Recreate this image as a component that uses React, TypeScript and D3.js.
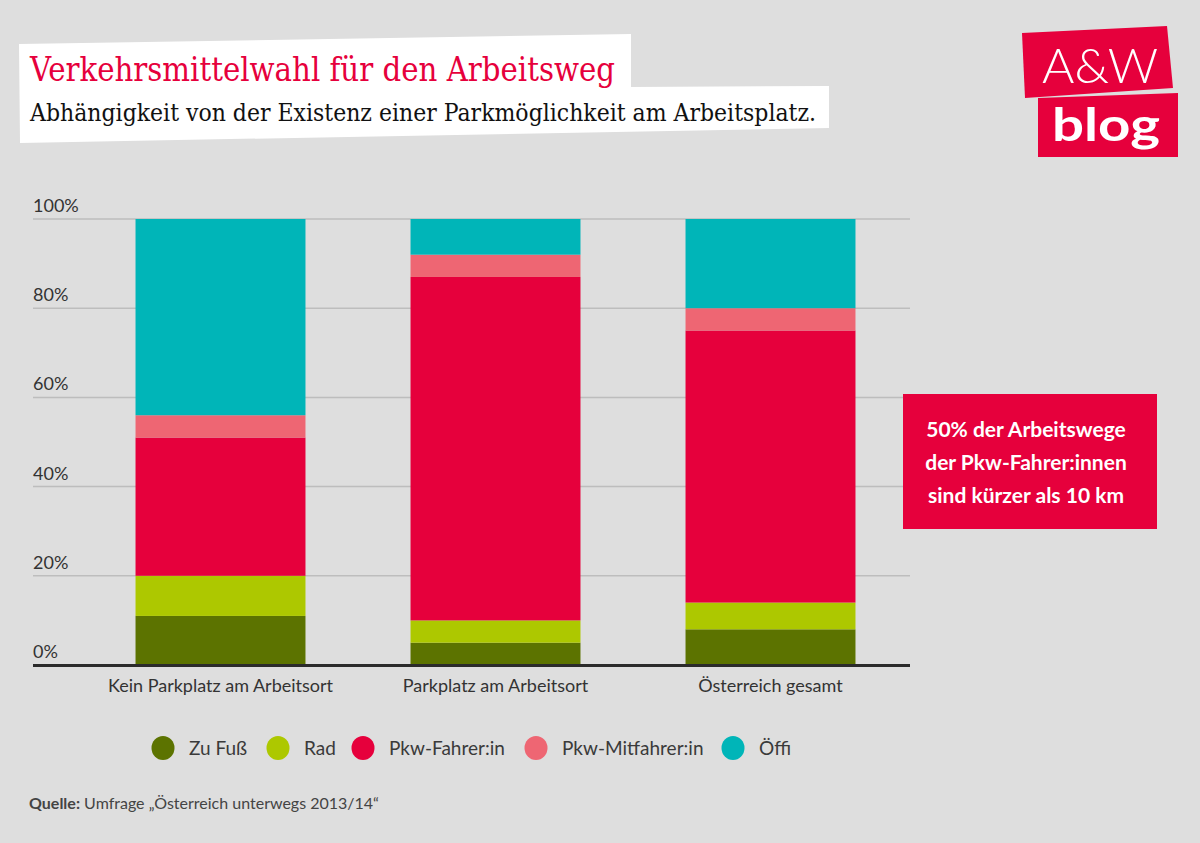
import React from 'react';
import * as d3 from 'd3';

const categories = ['Kein Parkplatz am Arbeitsort', 'Parkplatz am Arbeitsort', 'Österreich gesamt'];
const seriesNames = ['Zu Fuß', 'Rad', 'Pkw-Fahrer:in', 'Pkw-Mitfahrer:in', 'Öffi'];
const zuFuss = [11, 5, 8];
const rad = [9, 5, 6];
const pkwFahrer = [31, 77, 61];
const pkwMitfahrer = [5, 5, 5];
const oeffi = [44, 8, 20];
const yTicks = [0, 20, 40, 60, 80, 100];
const colors = ['#5c7300', '#adc800', '#e6003c', '#ee6673', '#00b5b8'];
const legendX = [163, 278, 363, 536, 733];
const noteLines = ['50% der Arbeitswege', 'der Pkw-Fahrer:innen', 'sind kürzer als 10 km'];

const W = 1200;
const H = 843;
const SANS = "Lato, 'PT Sans', 'Noto Sans', sans-serif";
const SERIF = "'DejaVu Serif Condensed', 'DejaVu Serif', serif";

export default function App() {
  const rows = categories.map((c, i) => ({
    cat: c,
    [seriesNames[0]]: zuFuss[i],
    [seriesNames[1]]: rad[i],
    [seriesNames[2]]: pkwFahrer[i],
    [seriesNames[3]]: pkwMitfahrer[i],
    [seriesNames[4]]: oeffi[i],
  }));
  const stacked = d3.stack<any>().keys(seriesNames)(rows);
  const x = d3.scaleBand<string>().domain(categories).range([83, 908]).paddingInner(0.382).paddingOuter(0.191);
  const y = d3.scaleLinear().domain([0, 100]).range([665, 219]);

  return (
    <div style={{ position: 'absolute', left: 0, top: 0 }}>
      <svg width={W} height={H} viewBox={`0 0 ${W} ${H}`} style={{ display: 'block' }}>
        <rect x={0} y={0} width={W} height={H} fill="#dedede" />

        {/* Title block */}
        <polygon points="19,44 631,34 631,87 829,86 829,128 20,143" fill="#ffffff" />
        <text x={30} y={81} fontFamily={SERIF} fontSize={33} fill="#e6003c" textLength={585} lengthAdjust="spacingAndGlyphs">
          Verkehrsmittelwahl für den Arbeitsweg
        </text>
        <text x={30} y={121} fontFamily={SERIF} fontSize={24} fill="#111111" textLength={786} lengthAdjust="spacingAndGlyphs">
          Abhängigkeit von der Existenz einer Parkmöglichkeit am Arbeitsplatz.
        </text>

        {/* Logo */}
        <polygon points="1022,33 1167,26 1173,88 1025,98" fill="#e6003c" />
        <polygon points="1038,98 1178,93 1178,157 1038,157" fill="#e6003c" />
        <text x={1100} y={83} textAnchor="middle" fontFamily={SANS} fontSize={48} fontWeight={300} fill="#ffffff" textLength={116} lengthAdjust="spacingAndGlyphs">
          A&amp;W
        </text>
        <text x={1106} y={141} textAnchor="middle" fontFamily={SANS} fontSize={46} fontWeight={700} fill="#ffffff" textLength={108} lengthAdjust="spacingAndGlyphs">
          blog
        </text>

        {/* Gridlines + y labels */}
        {yTicks.map((t) => (
          <g key={t}>
            {t !== 0 && <line x1={33} x2={910} y1={y(t)} y2={y(t)} stroke="#bdbdbd" strokeWidth={1.5} />}
            <text x={33} y={y(t) - 7} fontFamily={SANS} fontSize={18} fill="#333333">
              {t}%
            </text>
          </g>
        ))}

        {/* Bars */}
        {stacked.map((s, si) => (
          <g key={s.key} fill={colors[si]}>
            {s.map((d, i) => (
              <rect
                key={i}
                x={x(categories[i])}
                width={x.bandwidth()}
                y={y(d[1])}
                height={y(d[0]) - y(d[1])}
              />
            ))}
          </g>
        ))}

        {/* Axis baseline */}
        <line x1={33} x2={910} y1={665.5} y2={665.5} stroke="#2b2b2b" strokeWidth={3} />

        {/* X labels */}
        {categories.map((c) => (
          <text key={c} x={(x(c) as number) + x.bandwidth() / 2} y={692} textAnchor="middle" fontFamily={SANS} fontSize={18} fill="#333333">
            {c}
          </text>
        ))}

        {/* Annotation */}
        <rect x={903} y={394} width={254} height={135} fill="#e6003c" />
        {noteLines.map((l, i) => (
          <text key={i} x={1026} y={437 + i * 33} textAnchor="middle" fontFamily={SANS} fontSize={21} fontWeight={700} fill="#ffffff">
            {l}
          </text>
        ))}

        {/* Legend */}
        {seriesNames.map((n, i) => (
          <g key={n}>
            <ellipse cx={legendX[i]} cy={748} rx={11.5} ry={12} fill={colors[i]} />
            <text x={legendX[i] + 26} y={755} fontFamily={SANS} fontSize={19} fill="#3a3a3a">
              {n}
            </text>
          </g>
        ))}

        {/* Source */}
        <text x={29} y={809} fontFamily={SANS} fontSize={16} fill="#444444">
          <tspan fontWeight={700}>Quelle:</tspan> Umfrage „Österreich unterwegs 2013/14“
        </text>
      </svg>
    </div>
  );
}
